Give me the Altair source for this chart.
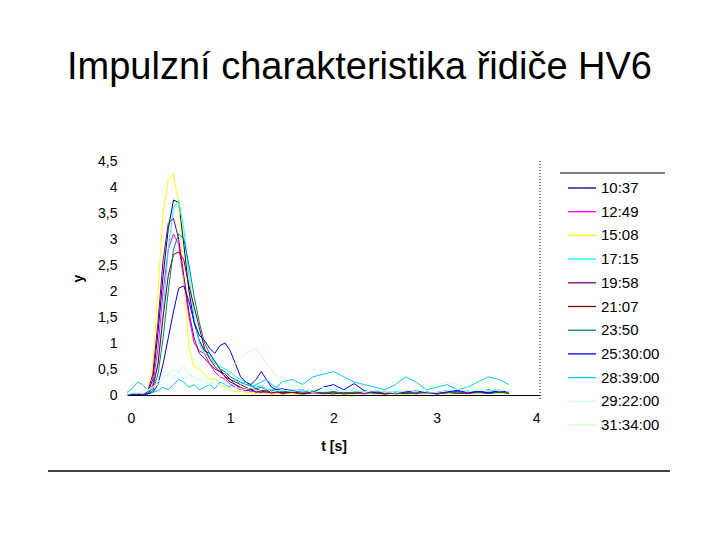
import altair as alt
import pandas as pd

T = [0.00, 0.05, 0.10, 0.15, 0.20, 0.25, 0.30, 0.35, 0.40, 0.45, 0.50, 0.55, 0.60, 0.65, 0.70,
     0.75, 0.80, 0.85, 0.90, 0.95, 1.00, 1.05, 1.10, 1.15, 1.20, 1.25, 1.30, 1.35, 1.40, 1.45, 1.50,
     1.6, 1.7, 1.8, 1.9, 2.0, 2.1, 2.2, 2.3, 2.4, 2.5, 2.6, 2.7, 2.8, 2.9, 3.0, 3.1, 3.2, 3.3, 3.4, 3.5, 3.6, 3.7]

S_1037 = [0.02, 0.03, 0.01, 0.02, 0.05, 0.3, 1.2, 2.3, 3.2, 3.75, 3.7, 2.9, 2.0, 1.4, 1.05, 0.85, 0.8, 0.65, 0.5, 0.35, 0.25, 0.2, 0.12, 0.08, 0.1, 0.05, 0.08, 0.04, 0.06, 0.03, 0.05,
          0.04, 0.02, 0.06, 0.03, 0.05, 0.02, 0.04, 0.07, 0.03, 0.05, 0.02, 0.04, 0.06, 0.03, 0.05, 0.08, 0.03, 0.06, 0.04, 0.1, 0.05, 0.07]
S_1249 = [0.01, 0.02, 0.03, 0.01, 0.04, 0.2, 0.9, 2.0, 2.8, 3.1, 2.9, 2.2, 1.5, 1.0, 0.85, 0.8, 0.6, 0.45, 0.35, 0.3, 0.2, 0.15, 0.1, 0.12, 0.06, 0.08, 0.04, 0.07, 0.03, 0.05, 0.02,
          0.05, 0.03, 0.06, 0.02, 0.04, 0.03, 0.05, 0.02, 0.06, 0.03, 0.04, 0.07, 0.02, 0.05, 0.03, 0.06, 0.04, 0.03, 0.05, 0.07, 0.04, 0.06]
S_1508 = [0.0, 0.01, 0.02, 0.0, 0.05, 0.6, 2.0, 3.5, 4.15, 4.25, 3.7, 2.2, 0.9, 0.55, 0.5, 0.4, 0.3, 0.32, 0.2, 0.15, 0.1, 0.06, 0.08, 0.04, 0.05, 0.02, 0.04, 0.03, 0.01, 0.03, 0.02,
          0.03, 0.01, 0.04, 0.02, 0.03, 0.01, 0.02, 0.04, 0.01, 0.03, 0.02, 0.01, 0.03, 0.02, 0.04, 0.02, 0.03, 0.05, 0.02, 0.08, 0.03, 0.04]
S_1715 = [0.02, 0.01, 0.03, 0.02, 0.03, 0.1, 0.6, 1.6, 2.8, 3.6, 3.75, 3.2, 2.3, 1.5, 1.0, 0.8, 0.75, 0.6, 0.55, 0.5, 0.45, 0.35, 0.3, 0.25, 0.2, 0.15, 0.18, 0.12, 0.1, 0.14, 0.08,
          0.1, 0.06, 0.08, 0.05, 0.07, 0.04, 0.06, 0.08, 0.03, 0.05, 0.07, 0.04, 0.06, 0.05, 0.03, 0.07, 0.05, 0.08, 0.04, 0.06, 0.1, 0.05]
S_1958 = [0.01, 0.03, 0.02, 0.01, 0.06, 0.4, 1.4, 2.6, 3.3, 3.4, 3.0, 2.3, 1.6, 1.1, 0.8, 0.7, 0.6, 0.5, 0.45, 0.35, 0.3, 0.2, 0.15, 0.1, 0.12, 0.07, 0.05, 0.08, 0.04, 0.06, 0.03,
          0.05, 0.02, 0.04, 0.03, 0.06, 0.02, 0.04, 0.03, 0.05, 0.02, 0.04, 0.06, 0.03, 0.05, 0.02, 0.04, 0.07, 0.03, 0.05, 0.04, 0.06, 0.03]
S_2107 = [0.02, 0.01, 0.02, 0.03, 0.02, 0.15, 0.6, 1.5, 2.3, 2.7, 2.75, 2.6, 2.1, 1.7, 1.3, 0.9, 0.7, 0.55, 0.45, 0.4, 0.3, 0.25, 0.2, 0.15, 0.1, 0.12, 0.08, 0.1, 0.05, 0.07, 0.04,
          0.06, 0.03, 0.05, 0.04, 0.02, 0.05, 0.03, 0.06, 0.04, 0.02, 0.05, 0.03, 0.04, 0.06, 0.02, 0.05, 0.03, 0.04, 0.06, 0.03, 0.05, 0.04]
S_2350 = [0.01, 0.02, 0.01, 0.03, 0.02, 0.08, 0.4, 1.1, 2.0, 2.8, 3.1, 3.0, 2.5, 1.9, 1.4, 1.0, 0.8, 0.65, 0.5, 0.45, 0.35, 0.3, 0.25, 0.2, 0.18, 0.12, 0.15, 0.1, 0.08, 0.1, 0.06,
          0.08, 0.05, 0.07, 0.04, 0.06, 0.03, 0.05, 0.07, 0.04, 0.06, 0.03, 0.05, 0.04, 0.06, 0.03, 0.05, 0.04, 0.07, 0.05, 0.03, 0.06, 0.04]
S_2530 = [0.0, 0.01, 0.02, 0.01, 0.02, 0.05, 0.2, 0.6, 1.1, 1.6, 2.05, 2.1, 1.8, 1.4, 1.15, 1.05, 0.9, 0.8, 0.95, 1.0, 0.85, 0.6, 0.35, 0.25, 0.2, 0.3, 0.45, 0.3, 0.15, 0.1, 0.12,
          0.08, 0.1, 0.05, 0.15, 0.2, 0.1, 0.22, 0.08, 0.05, 0.07, 0.04, 0.06, 0.08, 0.05, 0.04, 0.06, 0.09, 0.05, 0.07, 0.04, 0.08, 0.06]
S_2839 = [0.05, 0.12, 0.25, 0.2, 0.1, 0.05, 0.08, 0.15, 0.1, 0.2, 0.3, 0.25, 0.15, 0.2, 0.1, 0.15, 0.2, 0.12, 0.25, 0.2, 0.15, 0.3, 0.2, 0.25, 0.15, 0.2, 0.25, 0.3, 0.2, 0.15, 0.25,
          0.3, 0.2, 0.35, 0.4, 0.45, 0.35, 0.25, 0.2, 0.15, 0.1, 0.2, 0.35, 0.25, 0.1, 0.15, 0.2, 0.1, 0.15, 0.25, 0.35, 0.3, 0.2]
S_2922 = [0.02, 0.05, 0.03, 0.08, 0.1, 0.15, 0.2, 0.3, 0.4, 0.35, 0.45, 0.3, 0.4, 0.25, 0.3, 0.35, 0.2, 0.25, 0.15, 0.2, 0.1, 0.15, 0.12, 0.1, 0.15, 0.08, 0.1, 0.12, 0.06, 0.08, 0.1,
          0.07, 0.1, 0.05, 0.08, 0.12, 0.06, 0.09, 0.05, 0.1, 0.07, 0.04, 0.08, 0.1, 0.06, 0.05, 0.08, 0.12, 0.06, 0.1, 0.15, 0.08, 0.1]
S_3134 = [0.01, 0.03, 0.05, 0.02, 0.08, 0.15, 0.25, 0.35, 0.4, 0.5, 0.45, 0.55, 0.4, 0.35, 0.3, 0.25, 0.2, 0.3, 0.35, 0.4, 0.5, 0.6, 0.7, 0.8, 0.85, 0.9, 0.75, 0.6, 0.5, 0.35, 0.25,
          0.2, 0.15, 0.1, 0.15, 0.1, 0.08, 0.12, 0.06, 0.1, 0.05, 0.08, 0.1, 0.06, 0.15, 0.2, 0.25, 0.2, 0.15, 0.1, 0.08, 0.12, 0.06]

SERIES = ["10:37", "12:49", "15:08", "17:15", "19:58", "21:07", "23:50",
          "25:30:00", "28:39:00", "29:22:00", "31:34:00"]
VALUES = [S_1037, S_1249, S_1508, S_1715, S_1958, S_2107, S_2350,
          S_2530, S_2839, S_2922, S_3134]
COLORS = ["#000080", "#FF00FF", "#FFFF00", "#00FFFF", "#800080", "#800000", "#008080",
          "#0000FF", "#00CCFF", "#CCFFFF", "#CCFFCC"]

X_TICKS = [0, 1, 2, 3, 4]
Y_TICKS = [0, 0.5, 1, 1.5, 2, 2.5, 3, 3.5, 4, 4.5]
X_MAX = [4]

rows = []
for name, vals in zip(SERIES, VALUES):
    for t, v in zip(T, vals):
        rows.append({"serie": name, "t": t, "y": v})
df = pd.DataFrame(rows)

FONT = "Liberation Sans"
W, H = 413, 234

lines = alt.Chart(df).mark_line(strokeWidth=1, clip=True).encode(
    x=alt.X("t:Q", scale=alt.Scale(domain=[0, 4], nice=False),
            axis=alt.Axis(values=X_TICKS, title="t [s]", titleFontWeight="bold",
                          titleFontSize=14, titlePadding=14, labelFontSize=14,
                          labelPadding=16, ticks=False, grid=False, domainColor="black",
                          labelColor="black", titleColor="black", labelFont=FONT, titleFont=FONT,
                          format="d")),
    y=alt.Y("y:Q", scale=alt.Scale(domain=[0, 4.5], nice=False),
            axis=alt.Axis(values=Y_TICKS, title="y", titleFontWeight="bold", titleFontSize=14,
                          titlePadding=12, labelFontSize=14, labelPadding=10, ticks=False,
                          domain=False, grid=False, labelColor="black", titleColor="black",
                          labelFont=FONT, titleFont=FONT,
                          labelExpr="replace(format(datum.value, ''), '.', ',')")),
    color=alt.Color("serie:N", scale=alt.Scale(domain=SERIES, range=COLORS),
                    legend=alt.Legend(title=None, orient="none", legendX=440, legendY=12,
                                      symbolType="stroke", symbolSize=784, symbolStrokeWidth=1.3,
                                      labelFontSize=15, labelFont=FONT, labelColor="black",
                                      columns=1, rowPadding=0.7, labelOffset=4)),
    detail="serie:N",
)

vline = alt.Chart(pd.DataFrame({"x": X_MAX})).mark_rule(
    color="black", strokeDash=[1, 2], strokeWidth=1).encode(
    x="x:Q", y=alt.value(0), y2=alt.value(H + 5))

legend_top = alt.Chart(pd.DataFrame({"a": [0]})).mark_rule(color="black", strokeWidth=1).encode(
    x=alt.value(433), x2=alt.value(538), y=alt.value(12))
bottom_line = alt.Chart(pd.DataFrame({"a": [0]})).mark_rule(color="black", strokeWidth=1.5).encode(
    x=alt.value(-79), x2=alt.value(543), y=alt.value(310))

chart = alt.layer(lines, vline, legend_top, bottom_line).properties(
    width=W, height=H,
    autosize=alt.AutoSizeParams(type="none"),
    padding={"left": 119, "top": 153, "right": 172, "bottom": 137},
    title=alt.TitleParams("Impulzní charakteristika řidiče HV6", fontSize=38, font=FONT,
                          fontWeight="normal", anchor="middle", frame="group",
                          dx=26, offset=67, color="black"),
).configure_view(stroke=None)

chart.save("out.html", embed_options={"renderer": "svg", "actions": False})
